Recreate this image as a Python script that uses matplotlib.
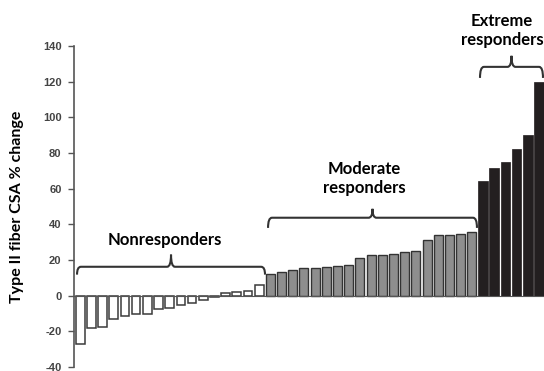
import numpy as np
import matplotlib.pyplot as plt
from matplotlib.path import Path
from matplotlib.patches import PathPatch

# values (Type II fiber CSA % change per subject)
non_resp = [-27, -18, -17.5, -13, -11.5, -10, -10, -7.5, -7, -5.3, -4, -2.3, -0.8, 1.5, 2, 2.5, 6]
moderate = [12.4, 13, 14.5, 15.5, 15.6, 16, 16.7, 17.3, 21, 22.7, 23, 23.6, 24.5, 25.1, 31.3, 33.9, 34.1, 34.6, 35.7]
extreme = [64.3, 71.8, 75.2, 82.1, 90.1, 120]
group_labels = ["Nonresponders", "Moderate\nresponders", "Extreme\nresponders"]
yticks = [-40, -20, 0, 20, 40, 60, 80, 100, 120, 140]

label_font = ["Lato", "DejaVu Sans"]
tick_font = ["Liberation Sans", "DejaVu Sans"]


def brace(ax, x0, x1, y, drop, tip, r=0.35):
    xm = (x0 + x1) / 2
    verts = [(x0, y - drop), (x0, y), (x0 + r, y),
             (xm - r, y), (xm, y), (xm, y + tip),
             (xm, y), (xm + r, y),
             (x1 - r, y), (x1, y), (x1, y - drop)]
    codes = [Path.MOVETO, Path.CURVE3, Path.CURVE3,
             Path.LINETO, Path.CURVE3, Path.CURVE3,
             Path.CURVE3, Path.CURVE3,
             Path.LINETO, Path.CURVE3, Path.CURVE3]
    ax.add_patch(PathPatch(Path(verts, codes), fill=False, edgecolor="#333333",
                           lw=1.5, clip_on=False, zorder=4))


fig = plt.figure(figsize=(5.44, 3.71), dpi=100)
ax = fig.add_axes([74 / 544, 1 - 367 / 371, 470 / 544, 321 / 371])

n1, n2, n3 = len(non_resp), len(moderate), len(extreme)
x1 = np.arange(n1)
x2 = np.arange(n1, n1 + n2)
x3 = np.arange(n1 + n2, n1 + n2 + n3)

ax.bar(x1, non_resp, width=0.78, color="white", edgecolor="#3a3a3a", linewidth=1.1, zorder=2)
ax.bar(x2, moderate, width=0.8, color="#8e8e8e", edgecolor="#333333", linewidth=1.0, zorder=2)
ax.bar(x3, extreme, width=0.86, color="#231f20", edgecolor="#231f20", linewidth=0.5, zorder=2)

ax.set_xlim(-0.55, n1 + n2 + n3 - 0.55)
ax.set_ylim(-40, 140)
ax.set_yticks(yticks)
ax.set_yticklabels([str(t) for t in yticks], fontfamily=tick_font, fontsize=8,
                   fontweight="bold", color="#444444")
ax.set_xticks([])
ax.tick_params(axis="y", direction="out", length=4, width=1, color="#555555", pad=5)

for side in ["top", "right"]:
    ax.spines[side].set_visible(False)
ax.spines["bottom"].set_position(("data", 0))
ax.spines["bottom"].set_color("#555555")
ax.spines["left"].set_color("#555555")
ax.spines["left"].set_linewidth(1.2)
ax.spines["bottom"].set_zorder(3)

ax.set_ylabel("Type II fiber CSA % change", fontfamily=label_font, fontsize=11.5,
              fontweight="bold", color="black")
ax.yaxis.set_label_coords(-0.106, 0.5)

# group braces and labels
brace(ax, -0.28, n1 - 0.48, 16.2, 4.4, 6.8)
brace(ax, n1 - 0.21, n1 + n2 - 0.54, 43.7, 5.7, 5.0)
brace(ax, n1 + n2 - 0.27, n1 + n2 + n3 - 0.64, 128.3, 6.2, 6.2)

text_kw = dict(fontfamily=label_font, fontsize=12, fontweight="bold", ha="center",
               va="center", linespacing=1.25, clip_on=False)
ax.text(7.54, 31.4, group_labels[0], **text_kw)
ax.text(25.4, 65.8, group_labels[1], **text_kw)
ax.text(37.7, 148.5, group_labels[2], **text_kw)

fig.savefig("out.png", dpi=100)
